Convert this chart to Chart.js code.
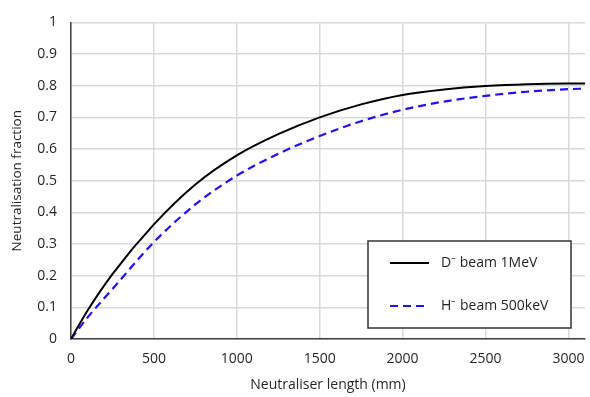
<!DOCTYPE html>
<html>
<head>
<meta charset="utf-8">
<script src="https://cdn.jsdelivr.net/npm/chart.js@4/dist/chart.umd.min.js"></script>
<style>
  html, body { margin: 0; padding: 0; background: #fff; }
  #wrap { width: 590px; height: 397px; }
</style>
</head>
<body>
<div id="wrap"><canvas id="neut-chart"></canvas></div>
<script>
// neutraliser length (mm)
const lengths = [0, 100, 250, 500, 750, 1000, 1250, 1500, 1750, 2000, 2250, 2500, 2750, 3000, 3100];
// neutralisation fraction
const dBeam = [0, 0.09, 0.205, 0.362, 0.488, 0.580, 0.647, 0.700, 0.741, 0.771, 0.788, 0.799, 0.805, 0.807, 0.807];
const hBeam = [0, 0.068, 0.158, 0.306, 0.425, 0.516, 0.585, 0.641, 0.688, 0.724, 0.750, 0.768, 0.781, 0.789, 0.791];
const xTicks = [0, 500, 1000, 1500, 2000, 2500, 3000];
const seriesNames = ['D\u207B beam 1MeV', 'H\u207B beam 500keV'];

const FONT = 'Open Sans';
const TXT = '#262626';

// boxed legend drawn inside the plot, lower right
const boxLegend = {
  id: 'boxLegend',
  afterDatasetsDraw(chart) {
    const { ctx, chartArea: a } = chart;
    const w = 203, h = 87;
    const x0 = a.right - 14 - w, y0 = a.bottom - 11 - h;
    ctx.save();
    ctx.fillStyle = '#fff';
    ctx.fillRect(x0, y0, w, h);
    ctx.strokeStyle = '#333';
    ctx.lineWidth = 1.5;
    ctx.strokeRect(x0, y0, w, h);
    chart.data.datasets.forEach((ds, i) => {
      const y = y0 + 22 + i * 43;
      ctx.beginPath();
      ctx.strokeStyle = ds.borderColor;
      ctx.lineWidth = ds.borderWidth;
      ctx.setLineDash(ds.borderDash || []);
      ctx.moveTo(x0 + 22, y);
      ctx.lineTo(x0 + 61, y);
      ctx.stroke();
      ctx.setLineDash([]);
      ctx.fillStyle = TXT;
      ctx.font = '14px "' + FONT + '"';
      ctx.textBaseline = 'middle';
      ctx.fillText(ds.label, x0 + 73, y);
    });
    ctx.restore();
  }
};

new Chart(document.getElementById('neut-chart'), {
  type: 'line',
  data: {
    labels: lengths,
    datasets: [
      {
        label: seriesNames[0],
        data: lengths.map((x, i) => ({ x, y: dBeam[i] })),
        borderColor: '#000',
        borderWidth: 2,
        pointRadius: 0,
        cubicInterpolationMode: 'monotone',
        fill: false,
      },
      {
        label: seriesNames[1],
        data: lengths.map((x, i) => ({ x, y: hBeam[i] })),
        borderColor: '#2410f5',
        borderWidth: 2.2,
        borderDash: [8, 5],
        pointRadius: 0,
        cubicInterpolationMode: 'monotone',
        fill: false,
      },
    ],
  },
  options: {
    responsive: true,
    maintainAspectRatio: false,
    animation: false,
    layout: { padding: { left: 9, right: 5, top: 18, bottom: 2 } },
    plugins: {
      legend: { display: false },
      tooltip: { enabled: false },
    },
    scales: {
      x: {
        type: 'linear',
        min: 0,
        max: 3100,
        afterBuildTicks: s => { s.ticks = xTicks.map(v => ({ value: v })); },
        afterFit: s => { s.height = 56; s.paddingRight = 0; s.paddingLeft = 0; },
        ticks: { color: TXT, font: { family: FONT, size: 14 }, padding: 12, maxRotation: 0, callback: v => String(v) },
        grid: { color: '#d9d9d9', lineWidth: 1.5, drawTicks: false },
        border: { color: '#404040', width: 1.5 },
        title: { display: true, text: 'Neutraliser length (mm)', color: TXT, font: { family: FONT, size: 14 }, padding: { top: 2, bottom: 2 } },
      },
      y: {
        min: 0,
        max: 1,
        afterFit: s => { s.width = 62; },
        ticks: { stepSize: 0.1, color: TXT, font: { family: FONT, size: 14 }, padding: 14, callback: v => String(Math.round(v * 10) / 10) },
        grid: { color: '#d9d9d9', lineWidth: 1.5, drawTicks: false },
        border: { color: '#404040', width: 1.5 },
        title: { display: true, text: 'Neutralisation fraction', color: TXT, font: { family: FONT, size: 13.5 }, padding: { top: 0, bottom: 0 } },
      },
    },
  },
  plugins: [boxLegend],
});
</script>
</body>
</html>
